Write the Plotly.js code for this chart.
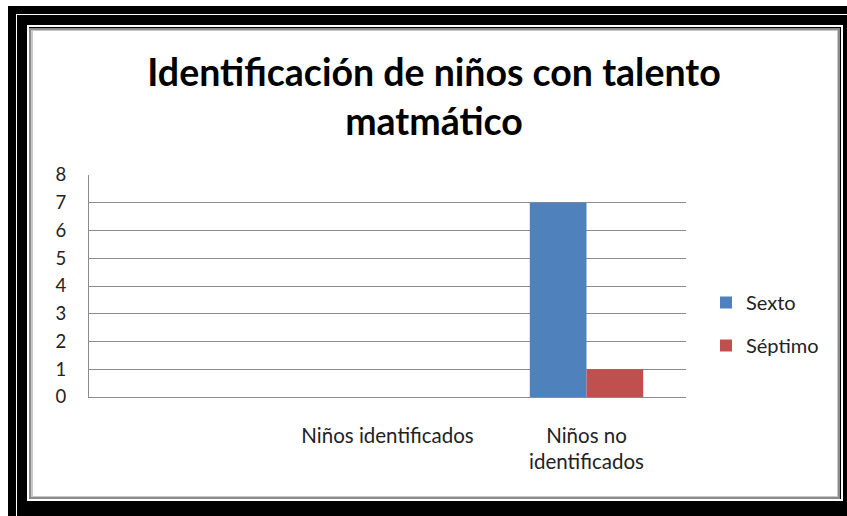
<!DOCTYPE html>
<html>
<head>
<meta charset="utf-8">
<script src="https://cdn.plot.ly/plotly-3.0.1.min.js"></script>
<style>
  html, body { margin: 0; padding: 0; background: #fff; width: 847px; height: 516px; overflow: hidden; }
  .abs { position: absolute; box-sizing: border-box; }
  #f1 { left: 8px; top: 6px; width: 839px; height: 510px; background: #000; }
  #f2 { left: 16px; top: 14px; width: 831px; height: 502px; border-top: 1px solid #fff; border-left: 1px solid #fff; }
  #f3 { left: 27px; top: 25px; width: 816px; height: 476px; border: 2px solid #fff; background: #000; }
  #f4 { left: 29px; top: 28px; width: 811px; height: 471px; background: #8a8a8a; }
  #f5 { left: 31px; top: 30px; width: 807px; height: 467px; background: #c8c8c8; }
  #f6 { left: 33px; top: 31px; width: 804px; height: 465px; background: #fff; }
  #chart { position: absolute; left: 0; top: 0; width: 847px; height: 516px; }
</style>
</head>
<body>
<div class="abs" id="f1"></div>
<div class="abs" id="f2"></div>
<div class="abs" id="f3"></div>
<div class="abs" id="f4"></div>
<div class="abs" id="f5"></div>
<div class="abs" id="f6"></div>
<div id="chart"></div>
<script>
const categories = ['Niños identificados', 'Niños no<br>identificados'];
const seriesNames = ['Sexto', 'Séptimo'];
const sexto = [0, 7];
const septimo = [0, 1];
const yTicks = [0, 1, 2, 3, 4, 5, 6, 7, 8];

const font = 'Lato, Carlito, Calibri, "Open Sans", sans-serif';

const traces = [
  { type: 'bar', name: seriesNames[0], x: categories, y: sexto, legendgroup: 'a',
    marker: { color: '#4F81BD', line: { width: 0 } } },
  { type: 'bar', name: seriesNames[1], x: categories, y: septimo, legendgroup: 'b',
    marker: { color: '#C0504D', line: { width: 0 } } }
];

const layout = {
  width: 847, height: 516,
  paper_bgcolor: 'rgba(0,0,0,0)',
  plot_bgcolor: '#fff',
  margin: { l: 89, r: 161, t: 175, b: 119, pad: 0 },
  font: { family: font, color: '#222', size: 17 },
  title: {
    text: '<b>Identificación de niños con talento<br>matmático</b>',
    font: { family: font, size: 37.5, color: '#000' },
    x: 434 / 847, xanchor: 'center', xref: 'container',
    y: 1 - 86 / 516, yanchor: 'top', yref: 'container'
  },
  barmode: 'group',
  bargap: 0.43,
  bargroupgap: 0,
  xaxis: {
    type: 'category',
    range: [-1.5, 1.5],
    showgrid: false,
    showline: true, linecolor: '#8c8c8c', linewidth: 1,
    ticks: '',
    ticklabelstandoff: 20,
    tickfont: { family: font, size: 20.5, color: '#222' },
    zeroline: false
  },
  yaxis: {
    range: [0, 8],
    tickvals: yTicks,
    showgrid: true, gridcolor: '#8c8c8c', gridwidth: 1,
    showline: true, linecolor: '#8c8c8c', linewidth: 1,
    zeroline: false,
    ticks: '',
    ticklabelstandoff: 18,
    tickfont: { family: font, size: 18.5, color: '#222' }
  },
  showlegend: true,
  legend: {
    x: 706 / 847, xref: 'container', xanchor: 'left',
    y: 1 - 283 / 516, yref: 'container', yanchor: 'top',
    traceorder: 'grouped',
    tracegroupgap: 14,
    font: { family: font, size: 20, color: '#222' },
    bgcolor: 'rgba(0,0,0,0)',
    itemwidth: 30
  }
};

Plotly.newPlot('chart', traces, layout, { displayModeBar: false, staticPlot: true });
</script>
</body>
</html>
